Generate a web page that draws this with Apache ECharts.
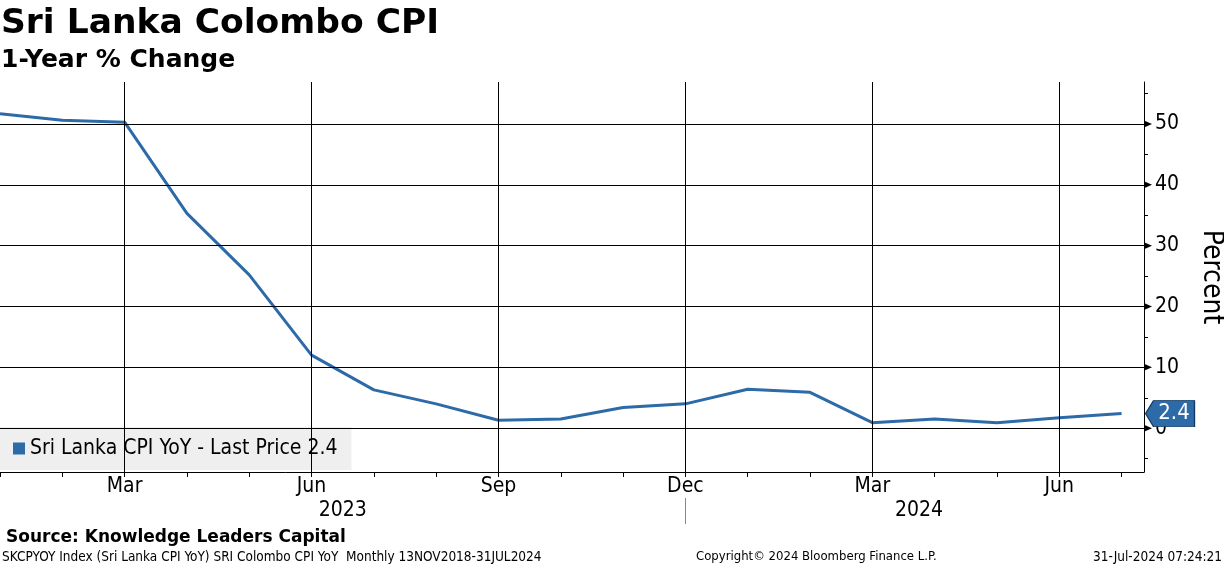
<!DOCTYPE html>
<html><head><meta charset="utf-8">
<script src="https://cdn.jsdelivr.net/npm/echarts@6/dist/echarts.min.js"></script>
<style>html,body{margin:0;padding:0;background:#fff}#c{width:1224px;height:566px}</style>
</head><body><div id="c"></div>
<script>
// ---- data ----
const months = ['Jan','Feb','Mar','Apr','May','Jun','Jul','Aug','Sep','Oct','Nov','Dec','Jan','Feb','Mar','Apr','May','Jun','Jul'];
const cpiYoY = [51.7, 50.6, 50.3, 35.3, 25.2, 12.0, 6.3, 4.0, 1.3, 1.5, 3.4, 4.0, 6.4, 5.9, 0.9, 1.5, 0.9, 1.7, 2.4];
const quarterTicks = [2, 5, 8, 11, 14, 17];
const yearLabels = ['2023', '2024'];
const yearLabelPos = [5.5, 14.75];
const yearDivider = [11];
const yLabelValues = [0, 10, 20, 30, 40, 50];
const yMinorTicks = [-5, 0, 5, 10, 15, 20, 25, 30, 35, 40, 45, 50, 55];
const XMIN = 0, XMAX = 18.36, YMIN = -7.2, YMAX = 56.9;

const FONT = 'DejaVu Sans Condensed';
const BLUE = '#2d6aa8';
const last = cpiYoY[cpiYoY.length - 1];

const chart = echarts.init(document.getElementById('c'), null, {renderer: 'canvas'});
chart.setOption({
  animation: false,
  backgroundColor: '#fff',
  title: [
    {text: 'Sri Lanka Colombo CPI', left: 1, top: 7, padding: 0,
     textStyle: {fontFamily: 'DejaVu Sans', fontWeight: 'bold', fontSize: 34.5, color: '#000'}},
    {text: '1-Year % Change', left: 1, top: 48, padding: 0,
     textStyle: {fontFamily: 'DejaVu Sans', fontWeight: 'bold', fontSize: 25, color: '#000'}},
    {text: 'Source: Knowledge Leaders Capital', left: 6, top: 529, padding: 0,
     textStyle: {fontFamily: 'DejaVu Sans', fontWeight: 'bold', fontSize: 17, color: '#000'}},
    {text: 'SKCPYOY Index (Sri Lanka CPI YoY) SRI Colombo CPI YoY  Monthly 13NOV2018-31JUL2024', left: 2, top: 550, padding: 0,
     textStyle: {fontFamily: FONT, fontWeight: 'normal', fontSize: 13.5, color: '#000'}},
    {text: 'Copyright\u00A9 2024 Bloomberg Finance L.P.', left: 696, top: 550, padding: 0,
     textStyle: {fontFamily: FONT, fontWeight: 'normal', fontSize: 13, color: '#000'}},
    {text: '31-Jul-2024 07:24:21', right: 2, top: 550, padding: 0,
     textStyle: {fontFamily: FONT, fontWeight: 'normal', fontSize: 13.5, color: '#000'}}
  ],
  legend: {
    left: 0, top: 427, data: ['Sri Lanka CPI YoY'],
    formatter: n => n + ' - Last Price ' + last.toFixed(1),
    icon: 'rect', itemWidth: 12, itemHeight: 12,
    padding: [11, 14, 11, 13],
    backgroundColor: 'rgba(220,220,220,0.45)',
    textStyle: {fontFamily: FONT, fontSize: 21, color: '#000'}
  },
  grid: {left: 0, right: 80, top: 82, bottom: 94, containLabel: false, outerBoundsMode: 'none'},
  xAxis: [
    {type: 'value', min: XMIN, max: XMAX, position: 'bottom',
     axisLine: {show: true, onZero: false, lineStyle: {color: '#000', width: 1}},
     axisTick: {show: true, customValues: months.map((m, i) => i), length: 5, lineStyle: {color: '#000'}},
     axisLabel: {customValues: quarterTicks, formatter: v => months[v], fontFamily: FONT, fontSize: 21, color: '#000', margin: 4},
     splitLine: {show: false}},
    {type: 'value', min: XMIN, max: XMAX, position: 'bottom', offset: 26,
     axisLine: {show: false, onZero: false},
     axisTick: {show: true, customValues: yearDivider, length: 26, lineStyle: {color: '#888'}},
     axisLabel: {customValues: yearLabelPos, formatter: v => yearLabels[yearLabelPos.indexOf(v)], fontFamily: FONT, fontSize: 21, color: '#000', margin: 2},
     splitLine: {show: false}}
  ],
  yAxis: [
    {type: 'value', min: YMIN, max: YMAX, position: 'right',
     axisLine: {show: true, onZero: false, lineStyle: {color: '#000', width: 1}},
     axisTick: {show: true, customValues: yMinorTicks, length: 4, lineStyle: {color: '#000'}},
     axisLabel: {customValues: yLabelValues, fontFamily: FONT, fontSize: 21, color: '#000', margin: 11},
     splitLine: {show: false},
     name: 'Percent', nameLocation: 'middle', nameRotate: -90, nameGap: 53,
     nameTextStyle: {fontFamily: FONT, fontSize: 28, color: '#000'}}
  ],
  series: [
    {name: 'grid', type: 'line', data: [], z: 1, silent: true,
     markLine: {silent: true, symbol: ['none', 'none'], animation: false,
       label: {show: false},
       lineStyle: {color: '#000', width: 1, type: 'solid'},
       emphasis: {disabled: true},
       data: quarterTicks.map(v => ({xAxis: v})).concat(yLabelValues.map(v => ({yAxis: v})))},
     markPoint: {silent: true, animation: false, symbol: 'triangle', symbolRotate: -90, symbolSize: [7, 8],
       symbolOffset: [4, 0], itemStyle: {color: '#000'}, label: {show: false},
       data: yLabelValues.map(v => ({coord: [XMAX, v]}))}},
    {name: 'Sri Lanka CPI YoY', type: 'line', z: 3,
     data: cpiYoY.map((v, i) => [i, v]),
     showSymbol: false, symbol: 'none',
     lineStyle: {color: BLUE, width: 3},
     itemStyle: {color: BLUE},
     markPoint: {silent: true, animation: false,
       data: [{coord: [XMAX, last], value: last}],
       symbol: 'path://M0,13 L8,0 L49,0 L49,26 L8,26 Z', symbolSize: [49, 26], symbolKeepAspect: false,
       symbolOffset: [26, 0],
       itemStyle: {color: BLUE, borderColor: '#123a63', borderWidth: 1},
       label: {show: true, position: 'inside', offset: [4, 0], formatter: p => p.value.toFixed(1),
         fontFamily: FONT, fontSize: 22, color: '#fff'}}}
  ]
});
</script></body></html>
